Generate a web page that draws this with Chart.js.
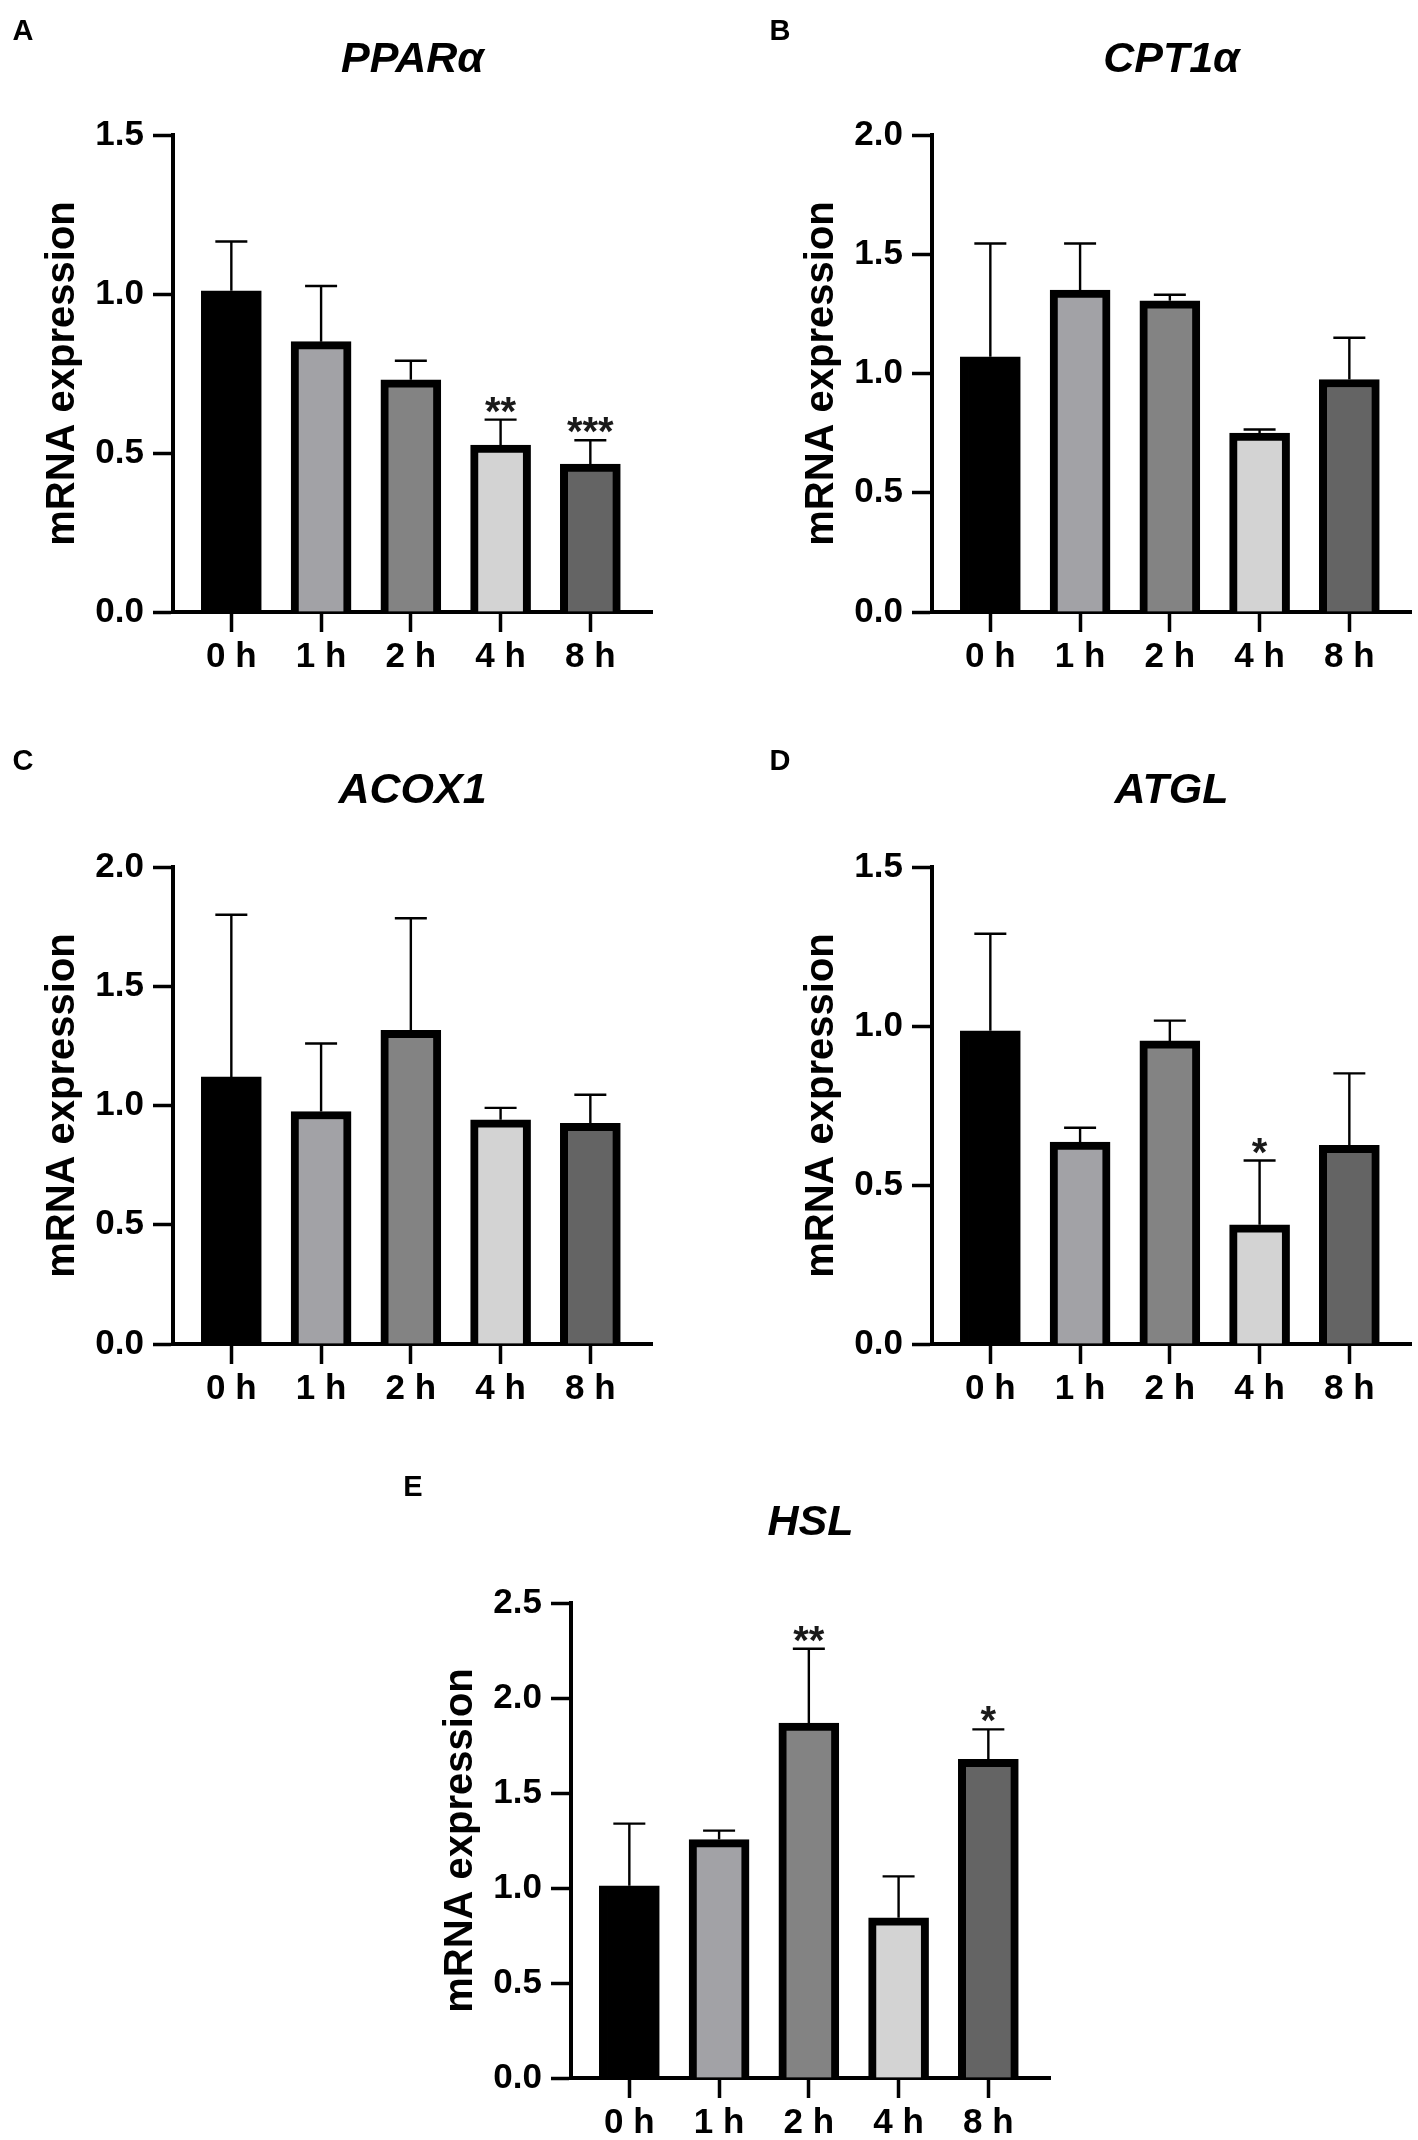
<!DOCTYPE html>
<html>
<head>
<meta charset="utf-8">
<script src="https://cdn.jsdelivr.net/npm/chart.js@4.4.0/dist/chart.umd.min.js"></script>
<style>
  body { margin: 0; background: #fff; }
  #page { position: relative; width: 1418px; height: 2140px; background: #fff; overflow: hidden; }
  #page canvas { position: absolute; }
</style>
</head>
<body>
<div id="page">
  <canvas id="panelA" width="709" height="700" style="left:0px;top:0px;width:709px;height:700px"></canvas>
  <canvas id="panelB" width="709" height="700" style="left:709px;top:0px;width:709px;height:700px"></canvas>
  <canvas id="panelC" width="709" height="740" style="left:0px;top:700px;width:709px;height:740px"></canvas>
  <canvas id="panelD" width="709" height="740" style="left:709px;top:700px;width:709px;height:740px"></canvas>
  <canvas id="panelE" width="740" height="740" style="left:350px;top:1400px;width:740px;height:740px"></canvas>
</div>
<script>
// categories and bar colours
const hours = ["0 h", "1 h", "2 h", "4 h", "8 h"];
const barColors = ["#000000", "#a2a2a6", "#838383", "#d3d3d3", "#646464"];

// PPARα
const pparMean = [1.01, 0.85, 0.73, 0.525, 0.465];
const pparErr = [0.155, 0.175, 0.06, 0.08, 0.075];
const pparStars = ["", "", "", "**", "***"];

// CPT1α
const cptMean = [1.07, 1.35, 1.305, 0.75, 0.975];
const cptErr = [0.475, 0.195, 0.025, 0.015, 0.175];
const cptStars = ["", "", "", "", ""];

// ACOX1
const acoxMean = [1.12, 0.975, 1.315, 0.94, 0.925];
const acoxErr = [0.68, 0.285, 0.47, 0.05, 0.12];
const acoxStars = ["", "", "", "", ""];

// ATGL
const atglMean = [0.985, 0.635, 0.953, 0.375, 0.625];
const atglErr = [0.305, 0.045, 0.064, 0.202, 0.226];
const atglStars = ["", "", "", "*", ""];

// HSL
const hslMean = [1.012, 1.255, 1.868, 0.843, 1.677];
const hslErr = [0.327, 0.047, 0.391, 0.218, 0.158];
const hslStars = ["", "", "**", "", "*"];

const FONT = "'Liberation Sans', Arial, Helvetica, sans-serif";
Chart.defaults.font.family = FONT;
Chart.defaults.color = "#000";

//panel layout (canvas-local pixels)
const panels = [
  { id: "panelA", letter: "A", gene: "PPARα", mean: pparMean, err: pparErr, stars: pparStars, yMax: 1.5, axisX: 173, plotTop: 135, plotBottom: 612, letterX: 23, letterY: 32, titleY: 60 },
  { id: "panelB", letter: "B", gene: "CPT1α", mean: cptMean, err: cptErr, stars: cptStars, yMax: 2.0, axisX: 223, plotTop: 135, plotBottom: 612, letterX: 71, letterY: 32, titleY: 60 },
  { id: "panelC", letter: "C", gene: "ACOX1", mean: acoxMean, err: acoxErr, stars: acoxStars, yMax: 2.0, axisX: 173, plotTop: 167, plotBottom: 644, letterX: 23, letterY: 62, titleY: 91 },
  { id: "panelD", letter: "D", gene: "ATGL", mean: atglMean, err: atglErr, stars: atglStars, yMax: 1.5, axisX: 223, plotTop: 167, plotBottom: 644, letterX: 71, letterY: 62, titleY: 91 },
  { id: "panelE", letter: "E", gene: "HSL", mean: hslMean, err: hslErr, stars: hslStars, yMax: 2.5, axisX: 221, plotTop: 203, plotBottom: 678, letterX: 63, letterY: 88, titleY: 123 }
];
const PLOT_W = 479;

//error bars, stars, gene title and panel letter
const decorPlugin = {
  id: "decor",
  afterDatasetsDraw(chart, args, opts) {
    const ctx = chart.ctx;
    const meta = chart.getDatasetMeta(0);
    const yScale = chart.scales.y;
    const area = chart.chartArea;
    ctx.save();
    ctx.strokeStyle = "#000";
    ctx.lineWidth = 2.4;
    opts.mean.forEach(function (m, i) {
      const x = meta.data[i].x;
      const yBar = yScale.getPixelForValue(m);
      const yTop = yScale.getPixelForValue(m + opts.err[i]);
      ctx.beginPath();
      ctx.moveTo(x, yBar);
      ctx.lineTo(x, yTop);
      ctx.moveTo(x - 16, yTop);
      ctx.lineTo(x + 16, yTop);
      ctx.stroke();
      if (opts.stars[i]) {
        ctx.fillStyle = "#1a1a1a";
        ctx.font = "bold 40px " + FONT;
        ctx.textAlign = "center";
        ctx.textBaseline = "alphabetic";
        ctx.fillText(opts.stars[i], x, yTop + 5);
      }
    });
    ctx.fillStyle = "#000";
    ctx.textAlign = "center";
    ctx.textBaseline = "middle";
    ctx.font = "italic bold 43px " + FONT;
    ctx.fillText(opts.gene, (area.left + area.right) / 2, opts.titleY);
    ctx.font = "bold 29px " + FONT;
    ctx.fillText(opts.letter, opts.letterX, opts.letterY);
    ctx.restore();
  }
};

panels.forEach(function (p) {
  const canvas = document.getElementById(p.id);
  const W = canvas.width, H = canvas.height;
  new Chart(canvas.getContext("2d"), {
    type: "bar",
    data: {
      datasets: [{
        data: p.mean.map(function (v, i) { return { x: i, y: v }; }),
        backgroundColor: barColors,
        borderColor: "#000",
        borderWidth: 8,
        barThickness: 60
      }]
    },
    options: {
      responsive: false,
      devicePixelRatio: 1,
      animation: false,
      layout: { padding: { top: p.plotTop, left: 0, right: W - p.axisX - PLOT_W, bottom: 0 } },
      plugins: {
        legend: { display: false },
        tooltip: { enabled: false },
        decor: { mean: p.mean, err: p.err, stars: p.stars, gene: p.gene, letter: p.letter, letterX: p.letterX, letterY: p.letterY, titleY: p.titleY }
      },
      scales: {
        x: {
          type: "linear",
          min: -0.65,
          max: 4.687,
          offset: false,
          z: 1,
          afterBuildTicks: function (scale) {
            scale.ticks = hours.map(function (h, i) { return { value: i }; });
          },
          afterFit: function (scale) { scale.height = H - p.plotBottom; },
          ticks: {
            callback: function (v) { return hours[v]; },
            font: { size: 35, weight: "bold" },
            color: "#000",
            padding: 4,
            maxRotation: 0,
            autoSkip: false
          },
          grid: { display: true, offset: false, drawOnChartArea: false, drawTicks: true, tickLength: 20, tickWidth: 3.5, tickColor: "#000" },
          border: { display: true, color: "#000", width: 4 }
        },
        y: {
          min: 0,
          max: p.yMax,
          afterFit: function (scale) { scale.width = p.axisX; },
          ticks: {
            stepSize: 0.5,
            callback: function (v) { return v.toFixed(1); },
            font: { size: 35, weight: "bold" },
            color: "#000",
            padding: 9
          },
          grid: { display: true, drawOnChartArea: false, drawTicks: true, tickLength: 20, tickWidth: 3.5, tickColor: "#000" },
          border: { display: true, color: "#000", width: 4 },
          title: {
            display: true,
            text: "mRNA expression",
            font: { size: 40, weight: "bold" },
            color: "#000",
            padding: { top: p.axisX - 134, bottom: 0 }
          }
        }
      }
    },
    plugins: [decorPlugin]
  });
});
</script>
</body>
</html>
